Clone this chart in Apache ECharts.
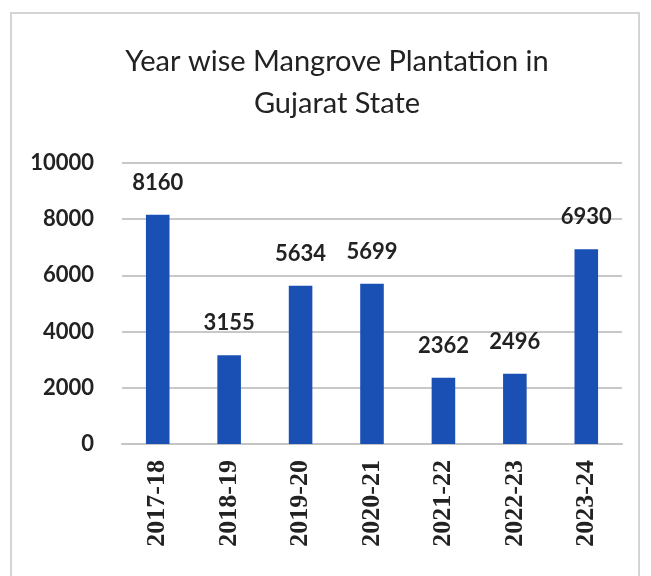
<!DOCTYPE html>
<html>
<head>
<meta charset="utf-8">
<script src="https://cdn.jsdelivr.net/npm/echarts@6/dist/echarts.min.js"></script>
<style>
  html, body { margin: 0; padding: 0; background: #fff; }
  #frame { position: absolute; left: 10px; top: 12px; width: 630px; height: 580px; border: 2px solid #d4d4d4; box-sizing: border-box; }
  #area { position: absolute; left: 0; top: 0; width: 651px; height: 576px; }
</style>
</head>
<body>
<div id="frame"></div>
<div id="area"></div>
<script>
// year wise plantation (hectares)
const years = ['2017-18', '2018-19', '2019-20', '2020-21', '2021-22', '2022-23', '2023-24'];
const plantation = [8160, 3155, 5634, 5699, 2362, 2496, 6930];
const yTicks = [0, 2000, 4000, 6000, 8000, 10000];

let myChart = echarts.init(document.getElementById('area'));
let option = {
  color: ['#1a4fb3'],
  title: {
    text: 'Year wise Mangrove Plantation in\nGujarat State',
    left: 332,
    textAlign: 'center',
    top: 36,
    textStyle: {
      fontFamily: 'Lato',
      fontSize: 29,
      fontWeight: 'normal',
      color: '#222',
      lineHeight: 42
    }
  },
  grid: {
    left: 122,
    right: 29,
    top: 163,
    bottom: 132
  },
  xAxis: {
    type: 'category',
    data: years,
    axisLine: { lineStyle: { color: '#c4c4c4', width: 2 } },
    axisTick: { show: false },
    axisLabel: {
      rotate: 90,
      margin: 16,
      fontFamily: 'Liberation Serif',
      fontWeight: 'bold',
      fontSize: 26,
      color: '#222'
    }
  },
  yAxis: {
    type: 'value',
    min: yTicks[0],
    max: yTicks[yTicks.length - 1],
    interval: 2000,
    axisLine: { show: false },
    axisTick: { show: false },
    splitLine: { lineStyle: { color: '#c8c8c8', width: 2 } },
    axisLabel: {
      margin: 28,
      formatter: function (v) { return String(v); },
      fontFamily: 'Lato',
      fontWeight: 'bold',
      fontSize: 22,
      color: '#222'
    }
  },
  series: [
    {
      type: 'bar',
      data: plantation,
      barWidth: '33%',
      label: {
        show: true,
        position: 'top',
        distance: 21,
        fontFamily: 'Lato',
        fontWeight: 'bold',
        fontSize: 22,
        color: '#222'
      }
    }
  ]
};
myChart.setOption(option);
</script>
</body>
</html>
